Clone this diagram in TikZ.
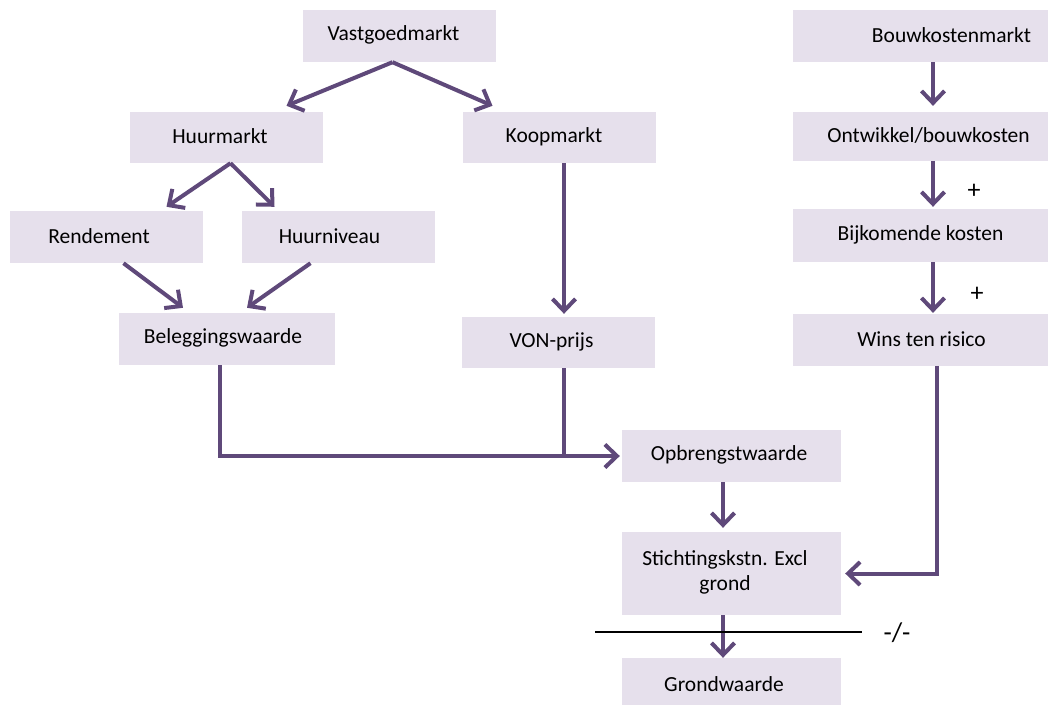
\documentclass[tikz,border=0pt]{standalone}
\usepackage{fontspec}
\setmainfont{Carlito}
\usepackage{xcolor}
\usetikzlibrary{arrows.meta}
\definecolor{boxfill}{HTML}{E6E0EC}
\definecolor{arrowpurple}{HTML}{5F497A}

\begin{document}
\begin{tikzpicture}[
  x=1pt, y=-1pt,
  font=\fontsize{21.5}{25}\selectfont,
  box/.style={fill=boxfill, inner sep=0pt},
  narrow/.style={box, minimum width=193pt, minimum height=52pt},
  wide/.style={box, minimum width=255pt, minimum height=52pt},
  mid/.style={box, minimum width=219pt, minimum height=52pt},
  txt/.style={align=center, inner sep=0pt, yshift=1pt},
  sign/.style={font=\fontsize{26}{28}\selectfont},
  arr/.style={arrowpurple, line width=4pt, -{Straight Barb[length=12pt,width=23pt]}},
  link/.style={arrowpurple, line width=4pt},
]
\useasboundingbox (0,0) rectangle (1054,704);
% left branch: rent and sale market
\node[narrow, label={[txt,xshift=-6pt]center:Vastgoedmarkt}] (vast) at (399.5,36) {};
\node[narrow, minimum height=51pt, label={[txt,xshift=-6.5pt]center:Huurmarkt}] (huur) at (226.5,137.5) {};
\node[narrow, minimum height=51pt, label={[txt,xshift=-5.5pt]center:Koopmarkt}] (koop) at (559.5,137.5) {};
\node[narrow, label={[txt,xshift=-7.5pt]center:Rendement}] (rend) at (106.5,237) {};
\node[narrow, label={[txt,xshift=-9pt]center:Huurniveau}] (hniv) at (338.5,237) {};
\node[box, minimum width=216pt, minimum height=52pt, label={[txt,xshift=-4pt]center:Beleggingswaarde}] (beleg) at (227,339) {};
\node[narrow, minimum height=51pt, label={[txt,xshift=-7pt]center:VON-prijs}] (von) at (558.5,342.5) {};
% right branch: building costs
\node[wide, label={[txt,xshift=31pt]center:Bouwkostenmarkt}] (bouw) at (920.5,36) {};
\node[wide, minimum height=48.5pt, label={[txt,xshift=8pt]center:Ontwikkel/bouwkosten}] (ontw) at (920.5,136.3) {};
\node[wide, minimum height=53pt, label={[txt]center:Bijkomende kosten}] (bijk) at (920.5,235.5) {};
\node[wide, minimum height=51.5pt, label={[txt,xshift=1pt]center:Wins ten risico}] (wins) at (920.5,339.8) {};
% residual calculation
\node[mid, label={[txt,xshift=-2.5pt]center:Opbrengstwaarde}] (opbr) at (731.5,456) {};
\node[mid, minimum height=83pt, label={[txt,xshift=-6.5pt]center:Stichtingskstn. Excl\\grond}] (sticht) at (731.5,573.5) {};
\node[mid, minimum height=54pt, label={[txt,xshift=-7.5pt]center:Grondwaarde}] (grond) at (731.5,685) {};
\node[sign] (plusa) at (974,191) {+};
\node[sign] (plusb) at (977,294) {+};
\coordinate (cutl) at (595,632);
\coordinate (cutr) at (862,632);
\node[font=\fontsize{27}{30}\selectfont] (minus) at (897,633) {-/-};

\draw[arr] ([xshift=-7pt]vast.south) -- ([xshift=60pt,yshift=6pt]huur.north);
\draw[arr] ([xshift=-7pt]vast.south) -- ([xshift=-67pt,yshift=6pt]koop.north);
\draw[arr] ([xshift=4pt]huur.south) -- ([xshift=60pt,yshift=4pt]rend.north);
\draw[arr] ([xshift=4pt]huur.south) -- ([xshift=-64pt,yshift=4pt]hniv.north);
\draw[arr] ([xshift=17pt]rend.south) -- ([xshift=-44pt,yshift=5pt]beleg.north);
\draw[arr] ([xshift=-28pt]hniv.south) -- ([xshift=20pt,yshift=5pt]beleg.north);
\draw[arr] ([xshift=4.5pt]koop.south) -- ([xshift=5.5pt,yshift=3pt]von.north);
\draw[arr] ([xshift=-7pt]beleg.south) |- ([xshift=-2pt]opbr.west);
\draw[link] ([xshift=5.5pt]von.south) -- ([xshift=5.5pt,yshift=-2pt]von.south |- opbr.west);
\draw[arr] ([xshift=-8.5pt]opbr.south) -- ([xshift=-8.5pt,yshift=4pt]sticht.north);
\draw[arr] ([xshift=16.5pt]wins.south) |- ([xshift=4pt]sticht.east);
\draw[arr] ([xshift=12.5pt]bouw.south) -- ([xshift=12.5pt,yshift=6pt]ontw.north);
\draw[arr] ([xshift=12.5pt]ontw.south) -- ([xshift=12.5pt,yshift=2pt]bijk.north);
\draw[arr] ([xshift=12.5pt]bijk.south) -- ([xshift=12.5pt,yshift=1pt]wins.north);
\draw[arr] ([xshift=-8.5pt]sticht.south) -- ([xshift=-8.5pt]grond.north);
\draw[line width=1.5pt] (cutl) -- (cutr);
\end{tikzpicture}
\end{document}
